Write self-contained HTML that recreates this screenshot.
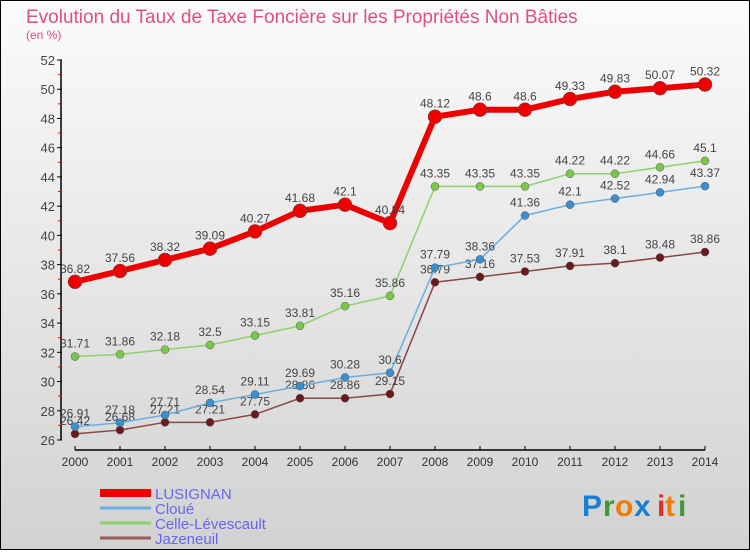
<!DOCTYPE html>
<html><head><meta charset="utf-8">
<style>
html,body{margin:0;padding:0;}
body{width:750px;height:550px;overflow:hidden;font-family:"Liberation Sans",sans-serif;}
</style></head>
<body>
<svg id="chart" width="750" height="550" xmlns="http://www.w3.org/2000/svg" font-family="Liberation Sans, sans-serif">
<defs><linearGradient id="bg" x1="0" y1="0" x2="0" y2="1"><stop offset="0" stop-color="#fbfbfb"/><stop offset="1" stop-color="#d2d2d2"/></linearGradient></defs>
<rect x="0.5" y="0.5" width="749" height="549" fill="url(#bg)" stroke="#000"/>
<text x="26" y="23" font-size="19" fill="#e0507a">Evolution du Taux de Taxe Foncière sur les Propriétés Non Bâties</text>
<text x="26" y="39" font-size="12" fill="#e0507a">(en %)</text>
<g id="axes"></g><g id="series"></g><g id="legend"></g>
<g font-size="30" font-weight="bold">
<text x="582" y="516" fill="#1a7fd0">P</text><text x="603" y="516" fill="#3a9a3a">r</text><text x="615" y="516" fill="#f07d00">o</text><text x="634" y="516" fill="#1a7fd0">x</text><text x="657" y="516" fill="#e03020">i</text><text x="665" y="516" fill="#f07d00">t</text><text x="678" y="516" fill="#3a9a3a">i</text>
</g>
</svg>
<script>
const years=[2000,2001,2002,2003,2004,2005,2006,2007,2008,2009,2010,2011,2012,2013,2014];
const lusignan=[36.82,37.56,38.32,39.09,40.27,41.68,42.1,40.84,48.12,48.6,48.6,49.33,49.83,50.07,50.32];
const cloue=[26.91,27.18,27.71,28.54,29.11,29.69,30.28,30.6,37.79,38.36,41.36,42.1,42.52,42.94,43.37];
const celle=[31.71,31.86,32.18,32.5,33.15,33.81,35.16,35.86,43.35,43.35,43.35,44.22,44.22,44.66,45.1];
const jaz=[26.42,26.68,27.21,27.21,27.75,28.86,28.86,29.15,36.79,37.16,37.53,37.91,38.1,38.48,38.86];
const yTicks=[26,28,30,32,34,36,38,40,42,44,46,48,50,52];
const NS="http://www.w3.org/2000/svg";
const x=i=>75+i*45;
const y=v=>440-(v-26)*(380/26);
function mk(t,a,p){const e=document.createElementNS(NS,t);for(const k in a)e.setAttribute(k,a[k]);p.appendChild(e);return e;}
const ax=document.getElementById('axes');
let l=mk('line',{x1:61,y1:60,x2:61,y2:440,stroke:'#000','stroke-width':1.5},ax);


l=mk('line',{x1:75,y1:450,x2:705,y2:450,stroke:'#000','stroke-width':1.5},ax);


yTicks.forEach(v=>{
 mk('line',{x1:57,y1:y(v),x2:62,y2:y(v),stroke:'#000'},ax);
 if(v<52)mk('line',{x1:58,y1:y(v+1),x2:61,y2:y(v+1),stroke:'#f00'},ax);
 const t=mk('text',{x:55,y:y(v)+5,'font-size':13,'text-anchor':'end',fill:'#444'},ax);t.textContent=v;
 
 
});
years.forEach((yr,i)=>{
 mk('line',{x1:x(i),y1:446,x2:x(i),y2:450,stroke:'#000'},ax);
 const t=mk('text',{x:x(i),y:466,'font-size':12,'text-anchor':'middle',fill:'#333'},ax);t.textContent=yr;
 
 
});
const sg=document.getElementById('series');
function draw(vals,col,dot,w,r,name){
 const g=mk('g',{},sg);
 
 
 mk('polyline',{points:vals.map((v,i)=>x(i)+','+y(v)).join(' '),fill:'none',stroke:col,'stroke-width':w,'stroke-linejoin':'round'},g);
 vals.forEach((v,i)=>{
  const c=mk('circle',{cx:x(i),cy:y(v),r:r,fill:dot,stroke:'#555','stroke-width':0.5},g);
  
  
  const t=mk('text',{x:x(i),y:y(v)-9,'font-size':12,'text-anchor':'middle',fill:'#444'},g);t.textContent=v;
  
  
 });
}
draw(jaz,'#8a4545','#6a1a1a',1.5,4,'series-jazeneuil');
draw(cloue,'#6aaee0','#3a8fd0',1.5,4,'series-cloue');
draw(celle,'#8ed16a','#7ac84a',1.5,4,'series-celle-levescault');
draw(lusignan,'#ee0000','#ee0000',6,7,'series-lusignan');
const lg=document.getElementById('legend');
[['LUSIGNAN','#ee0000',8],['Cloué','#6aaee0',3],['Celle-Lévescault','#8ed16a',3],['Jazeneuil','#9a5a5a',3]].forEach((e,i)=>{
 const g=mk('g',{},lg);
 
 
 const yy=493+i*15;
 mk('line',{x1:100,y1:yy,x2:151,y2:yy,stroke:e[1],'stroke-width':e[2]},g);
 const t=mk('text',{x:155,y:yy+6,'font-size':15,fill:'#6666ee'},g);t.textContent=e[0];
});
</script>
</body></html>
